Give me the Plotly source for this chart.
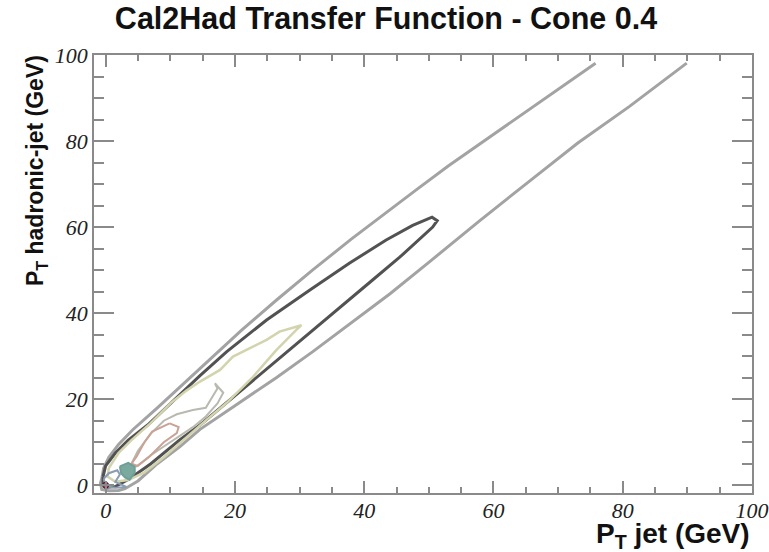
import plotly.graph_objects as go

# ---- data (contour outlines, data coordinates) ----
outer_x = [75.8, 69, 63, 57.9, 53, 48, 43, 38, 32, 26.4, 21, 16, 12, 8, 4.2, 2, 0.5, -0.3, -0.6, -0.8, -0.6, 0.5, 2, 3, 5, 8, 11.5, 14.6, 20, 26.4, 32, 37.8, 44, 50, 57.8, 65, 73, 81, 89.9]
outer_y = [98.1, 91, 84.8, 79.4, 74.2, 68.6, 63, 57.2, 50, 43, 36, 29, 23.5, 18, 12.9, 9.5, 6.5, 4, 1.5, 0.5, -1, -1.3, -1.2, -0.8, 1, 5, 9, 13, 18.5, 25, 31, 37.5, 44.5, 51.8, 61.4, 70, 79.5, 88, 98.1]

dark_x = [-0.4, 0, 1.5, 3.5, 6.5, 10, 14.6, 18.7, 24.9, 31.6, 37.7, 43.4, 47.5, 50.5, 51.3, 50.6, 45.5, 41.3, 35.2, 27.4, 23.3, 19.7, 14.6, 11.5, 7, 3.7, 1.5, 0, -0.4, -0.4]
dark_y = [2, 4.5, 7.5, 10.5, 14, 19, 25.5, 31, 38.4, 45.4, 51.6, 57.0, 60.4, 62.3, 61.5, 60.0, 53.0, 47.7, 40.0, 30.2, 25.0, 20.4, 14, 10.6, 5, 1.5, -0.3, -0.5, 0.5, 2]

yellow_x = [0.5, 2, 4, 7, 10, 12.5, 14.6, 17.7, 19.7, 21.8, 24.9, 26.9, 30.3, 29.5, 26.4, 22.8, 18.7, 15.6, 12, 9, 6, 3.5, 1.5, 0.3, 0.5]
yellow_y = [4, 7.5, 10.5, 14.5, 19, 22, 24.1, 26.8, 29.9, 31.4, 33.8, 35.7, 37.2, 36.1, 31.4, 25.2, 19.1, 15.2, 10.5, 6.5, 3, 1.2, 0.8, 2, 4]

lgray_x = [16.9, 17.3, 16.5, 15.5, 13.5, 11, 9, 7, 5, 4, 5, 7, 9, 11, 13.5, 15.5, 17.3, 18.2, 16.9]
lgray_y = [23.7, 22.5, 20.5, 18, 17.5, 16.5, 15, 12, 8, 5, 4.5, 7, 9, 11, 13.5, 16, 19, 21.5, 23.7]

brown_x = [9.9, 8.5, 7.2, 6, 4.8, 4, 4.8, 6.8, 9, 11, 11.3, 9.9]
brown_y = [14.4, 13.5, 12.5, 10, 6.7, 5, 4.4, 6.7, 10, 12.1, 13.5, 14.4]

teal_x = [2.2, 3.5, 4.5, 4.5, 3.7, 3, 2.4, 2.2]
teal_y = [4.4, 5.2, 4.3, 2.9, 1.3, 1.8, 2.8, 4.4]

blue_x = [-0.3, 0.5, 1.8, 2.2, 1.5, 2.5, 3.2, 1.5, 0, -0.3]
blue_y = [1.5, 2.8, 3.5, 2.5, 0.8, 0.2, -0.4, -0.6, -0.2, 1.5]

peak_x = [0]
peak_y = [0]

x_ticks = [0, 20, 40, 60, 80, 100]
y_ticks = [0, 20, 40, 60, 80, 100]

fig = go.Figure()

def add_line(xs, ys, color, width, fill=None, fillcolor=None):
    fig.add_trace(go.Scatter(x=xs, y=ys, mode="lines",
                             line=dict(color=color, width=width),
                             fill=fill, fillcolor=fillcolor,
                             hoverinfo="skip", showlegend=False))

add_line(outer_x, outer_y, "#a3a3a3", 3)
add_line(dark_x, dark_y, "#525252", 3)
add_line(yellow_x, yellow_y, "#d3d3ad", 2.5)
add_line(lgray_x, lgray_y, "#b9b9b0", 2)
add_line(brown_x, brown_y, "#c9a395", 2)
add_line(teal_x, teal_y, "#6e9f98", 2, fill="toself", fillcolor="#7aaa9e")
add_line(blue_x, blue_y, "#8a9db3", 2)
fig.add_trace(go.Scatter(x=peak_x, y=peak_y, mode="markers",
                         marker=dict(color="#e0205a", size=6, line=dict(color="#222", width=1)),
                         hoverinfo="skip", showlegend=False))

axis_common = dict(
    showgrid=False, zeroline=False, showline=True, linecolor="#8a8a8a", linewidth=1.5,
    mirror="allticks", ticks="inside", tickcolor="#8a8a8a", tickwidth=1.5,
    automargin=False,
    tickfont=dict(family="Liberation Serif", size=22, style="italic", color="#222"),
)

fig.update_xaxes(range=[-1.8, 100], tickvals=x_ticks, ticklen=12, ticklabelstandoff=-3,
                 minor=dict(dtick=5, ticks="inside", ticklen=6, tickcolor="#8a8a8a", tickwidth=1.5),
                 **axis_common)
fig.update_yaxes(range=[-1.8, 100], tickvals=y_ticks, ticklen=20,
                 minor=dict(dtick=5, ticks="inside", ticklen=10, tickcolor="#8a8a8a", tickwidth=1.5),
                 **axis_common)

fig.update_layout(
    width=769, height=552,
    margin=dict(l=94, r=17, t=55, b=59),
    paper_bgcolor="white", plot_bgcolor="white",
    title=dict(text="<b>Cal2Had Transfer Function - Cone 0.4</b>",
               x=0.502, xanchor="center", y=0.967, yanchor="middle",
               font=dict(family="Liberation Sans", size=30.5, color="#111")),
    annotations=[
        dict(text="<b>P<sub>T</sub> jet (GeV)</b>", xref="paper", yref="paper",
             x=1.0, xanchor="right", y=-0.097, yanchor="middle", showarrow=False,
             font=dict(family="Liberation Sans", size=28, color="#111")),
        dict(text="<b>P<sub>T</sub> hadronic-jet (GeV)</b>", xref="paper", yref="paper",
             x=-0.087, xanchor="center", y=1.005, yanchor="top", textangle=-90, showarrow=False,
             font=dict(family="Liberation Sans", size=23, color="#111")),
    ],
)

fig.write_html("out.html", config={"displayModeBar": False},
               post_script="document.body.style.margin='0';")
